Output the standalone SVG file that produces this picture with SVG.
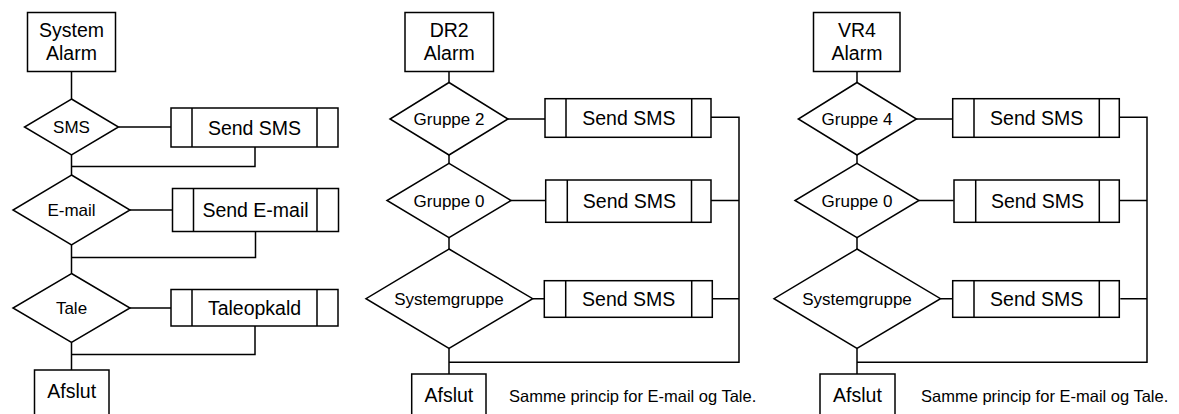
<svg xmlns="http://www.w3.org/2000/svg" width="1179" height="414" viewBox="0 0 1179 414">
<style>
.s{fill:#fff;stroke:#000;stroke-width:1.5}
.l{fill:none;stroke:#000;stroke-width:1.5}
.t{font-family:"Liberation Sans",Arial,sans-serif;font-size:19.5px;fill:#000;text-anchor:middle}
.d{font-family:"Liberation Sans",Arial,sans-serif;font-size:17px;fill:#000;text-anchor:middle}
.n{font-family:"Liberation Sans",Arial,sans-serif;font-size:16.5px;fill:#000}
</style>
<rect width="1179" height="414" fill="#fff"/>
<g id="connectors" class="l">
<!-- panel 1 -->
<path d="M71.5 71.5V99M118.5 127H171M71.5 155V175M255 147V166.5H71.5"/>
<path d="M130 210H172.5M71.5 245V273.5M255.5 231.5V257.5H71.5"/>
<path d="M130 308H171M71.5 342.5V370M255 326V354.5H71.5"/>
<!-- panel 2 -->
<path d="M449 71.5V82.5M508 119H545M449 155V163.3M511 200.5H545.7M449 237.7V249M532.7 298.7H544.3M449 348.3V374"/>
<path d="M711 117.3H739V362.3H449M711 200.5H739M712.3 298.7H739"/>
<!-- panel 3 -->
<path d="M857 71.5V82.5M916 119H953M857 155V163.3M919 200.5H953.7M857 237.7V249M940.7 298.7H952.3M857 348.3V374"/>
<path d="M1119 117.3H1147V362.3H857M1119 200.5H1147M1120.3 298.7H1147"/>
</g>
<!-- Panel 1 -->
<g id="p1-start"><rect class="s" x="27.5" y="12.5" width="88" height="59"/><text class="t" x="71.5" y="36.5">System</text><text class="t" x="71.5" y="59.5">Alarm</text></g>
<g id="p1-sms"><polygon class="s" points="71.5,99 118.5,127 71.5,155 24.5,127"/><text class="d" x="71.5" y="133">SMS</text></g>
<g id="p1-sendsms"><rect class="s" x="171" y="108" width="167" height="39"/><path class="l" d="M192 108V147M317 108V147"/><text class="t" x="254.5" y="134.5">Send SMS</text></g>
<g id="p1-email"><polygon class="s" points="71.5,175 130,210 71.5,245 13,210"/><text class="d" x="71.5" y="216">E-mail</text></g>
<g id="p1-sendemail"><rect class="s" x="172.5" y="188.5" width="166" height="43"/><path class="l" d="M193.5 188.5V231.5M317 188.5V231.5"/><text class="t" x="255.5" y="217">Send E-mail</text></g>
<g id="p1-tale"><polygon class="s" points="71.5,273.5 130,308 71.5,342.5 13,308"/><text class="d" x="71.5" y="314">Tale</text></g>
<g id="p1-taleopkald"><rect class="s" x="171" y="289.5" width="167" height="36.5"/><path class="l" d="M192 289.5V326M317 289.5V326"/><text class="t" x="254.5" y="315">Taleopkald</text></g>
<g id="p1-afslut"><rect class="s" x="34.5" y="370" width="74.5" height="60"/><text class="t" x="71.7" y="397.5">Afslut</text></g>
<!-- Panel 2 -->
<g id="p2-start"><rect class="s" x="405" y="12.5" width="88.5" height="59"/><text class="t" x="449.2" y="37">DR2</text><text class="t" x="449.2" y="59.5">Alarm</text></g>
<g id="p2-g2"><polygon class="s" points="449,82.5 508,119 449,155 390,119"/><text class="d" x="449" y="125">Gruppe 2</text></g>
<g id="p2-sms1"><rect class="s" x="545" y="98.7" width="166" height="38.6"/><path class="l" d="M566 98.7V137.3M691.7 98.7V137.3"/><text class="t" x="628.8" y="125">Send SMS</text></g>
<g id="p2-g0"><polygon class="s" points="449,163.3 511,200.5 449,237.7 387,200.5"/><text class="d" x="449" y="206.5">Gruppe 0</text></g>
<g id="p2-sms2"><rect class="s" x="545.7" y="180" width="165.3" height="42.3"/><path class="l" d="M567.3 180V222.3M691.5 180V222.3"/><text class="t" x="629.4" y="208">Send SMS</text></g>
<g id="p2-sys"><polygon class="s" points="449,249 532.7,298.7 449,348.3 366,298.7"/><text class="d" x="449" y="304.7">Systemgruppe</text></g>
<g id="p2-sms3"><rect class="s" x="544.3" y="280.7" width="168" height="36.6"/><path class="l" d="M565.7 280.7V317.3M691.7 280.7V317.3"/><text class="t" x="628.7" y="306">Send SMS</text></g>
<g id="p2-afslut"><rect class="s" x="411.7" y="374" width="74.3" height="60"/><text class="t" x="448.9" y="402">Afslut</text></g>
<g id="p2-note"><text class="n" x="509" y="402">Samme princip for E-mail og Tale.</text></g>
<!-- Panel 3 -->
<g id="p3-start"><rect class="s" x="813.5" y="12.5" width="86.5" height="59"/><text class="t" x="857" y="37">VR4</text><text class="t" x="857" y="59.5">Alarm</text></g>
<g id="p3-g4"><polygon class="s" points="857,82.5 916.5,119 857,155 798.3,119"/><text class="d" x="857" y="125">Gruppe 4</text></g>
<g id="p3-sms1"><rect class="s" x="952.7" y="98.7" width="166.6" height="38.6"/><path class="l" d="M974 98.7V137.3M1099.3 98.7V137.3"/><text class="t" x="1036.7" y="125">Send SMS</text></g>
<g id="p3-g0"><polygon class="s" points="857,163.3 919,200.5 857,237.7 795,200.5"/><text class="d" x="857" y="206.5">Gruppe 0</text></g>
<g id="p3-sms2"><rect class="s" x="954" y="180" width="165.3" height="42.3"/><path class="l" d="M975.7 180V222.3M1099.3 180V222.3"/><text class="t" x="1037.5" y="208">Send SMS</text></g>
<g id="p3-sys"><polygon class="s" points="857,249 940.5,298.7 857,348.3 774,298.7"/><text class="d" x="857" y="304.7">Systemgruppe</text></g>
<g id="p3-sms3"><rect class="s" x="952.7" y="280.7" width="166.6" height="36.6"/><path class="l" d="M974 280.7V317.3M1099.3 280.7V317.3"/><text class="t" x="1036.7" y="306">Send SMS</text></g>
<g id="p3-afslut"><rect class="s" x="820" y="374" width="75" height="60"/><text class="t" x="857.5" y="402">Afslut</text></g>
<g id="p3-note"><text class="n" x="921" y="402">Samme princip for E-mail og Tale.</text></g>
</svg>
